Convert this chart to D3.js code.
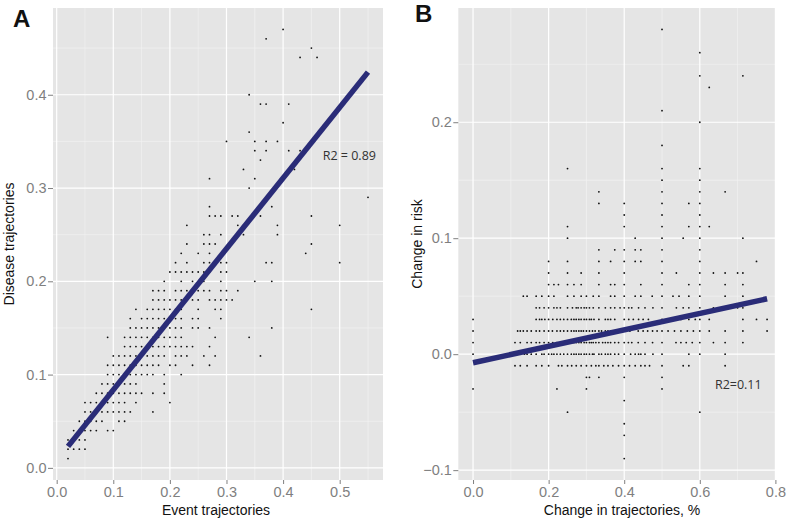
<!DOCTYPE html>
<html><head><meta charset="utf-8">
<script src="https://cdn.jsdelivr.net/npm/d3@7"></script>
<style>body{margin:0;background:#fff}svg{display:block}</style>
</head><body><div id="chart"></div>
<script>
// ---------- DATA ----------
// Panel A: rows of [disease trajectories (y), event trajectories (x values)]
const panelARows = [
  [0.01,[0.02]],
  [0.02,[0.02,0.03,0.04,0.05]],
  [0.03,[0.02,0.03,0.04,0.05]],
  [0.04,[0.03,0.04,0.05,0.06,0.07,0.09,0.10]],
  [0.05,[0.04,0.05,0.06,0.07,0.08,0.11,0.12]],
  [0.06,[0.05,0.06,0.07,0.08,0.09,0.10,0.11,0.12,0.13,0.17]],
  [0.07,[0.05,0.06,0.07,0.08,0.09,0.10,0.11,0.12,0.14,0.20]],
  [0.08,[0.07,0.08,0.09,0.10,0.11,0.12,0.13,0.14,0.15,0.17,0.19]],
  [0.09,[0.08,0.09,0.10,0.11,0.12,0.13,0.14,0.19]],
  [0.10,[0.09,0.10,0.11,0.12,0.13,0.14,0.15,0.16,0.17,0.19,0.22]],
  [0.11,[0.09,0.10,0.11,0.12,0.13,0.14,0.15,0.16,0.17,0.18,0.20,0.21,0.24,0.27]],
  [0.12,[0.10,0.11,0.12,0.13,0.14,0.15,0.16,0.17,0.18,0.19,0.21,0.22,0.23,0.26,0.28,0.36]],
  [0.13,[0.12,0.13,0.14,0.15,0.16,0.17,0.18,0.19,0.20,0.21,0.22,0.23,0.24,0.27]],
  [0.14,[0.09,0.12,0.13,0.14,0.15,0.16,0.17,0.18,0.19,0.20,0.21,0.22,0.28,0.34]],
  [0.15,[0.13,0.14,0.15,0.16,0.17,0.18,0.19,0.20,0.21,0.22,0.24,0.25,0.27,0.38]],
  [0.16,[0.13,0.15,0.16,0.17,0.18,0.19,0.20,0.21,0.22,0.24,0.25,0.29]],
  [0.17,[0.14,0.16,0.17,0.18,0.19,0.20,0.21,0.22,0.25,0.28,0.29,0.45]],
  [0.18,[0.17,0.18,0.19,0.20,0.21,0.22,0.23,0.24,0.25,0.27,0.28,0.29,0.30,0.31]],
  [0.19,[0.17,0.18,0.19,0.21,0.22,0.23,0.24,0.25,0.26,0.27,0.29,0.30,0.32]],
  [0.20,[0.19,0.22,0.24,0.26,0.29,0.35,0.38]],
  [0.21,[0.20,0.21,0.22,0.23,0.24,0.25,0.26,0.27,0.29,0.30]],
  [0.22,[0.21,0.23,0.26,0.27,0.29,0.30,0.37,0.38,0.50]],
  [0.23,[0.22,0.25,0.27,0.44]],
  [0.24,[0.23,0.26,0.27,0.28,0.45]],
  [0.25,[0.26,0.27,0.29,0.33,0.39]],
  [0.26,[0.23,0.32,0.33,0.39,0.50]],
  [0.27,[0.27,0.28,0.29,0.31,0.32,0.36,0.45]],
  [0.28,[0.27,0.38]],
  [0.29,[0.55]],
  [0.30,[0.34]],
  [0.31,[0.27,0.35]],
  [0.32,[0.33,0.42]],
  [0.33,[0.36]],
  [0.34,[0.35,0.37,0.41,0.43]],
  [0.35,[0.30,0.35,0.37,0.39]],
  [0.36,[0.34]],
  [0.37,[0.40]],
  [0.39,[0.36,0.37,0.41]],
  [0.40,[0.34]],
  [0.44,[0.43,0.46]],
  [0.45,[0.45]],
  [0.46,[0.37]],
  [0.47,[0.40]]
];
// Panel B: rows of [change in risk (y), change in trajectories (x values)]
const panelBRows = [
  [0.28,[0.5]],
  [0.26,[0.6]],
  [0.24,[0.6,0.714]],
  [0.23,[0.625]],
  [0.21,[0.5]],
  [0.20,[0.6]],
  [0.18,[0.5]],
  [0.16,[0.25,0.5,0.6]],
  [0.15,[0.5,0.6]],
  [0.14,[0.333,0.5,0.6,0.667]],
  [0.13,[0.333,0.4,0.5,0.571,0.6]],
  [0.12,[0.4,0.5,0.6]],
  [0.11,[0.25,0.4,0.5,0.571,0.6,0.625]],
  [0.10,[0.25,0.429,0.5,0.556,0.6,0.714]],
  [0.09,[0.333,0.375,0.4,0.429,0.444,0.5,0.6]],
  [0.08,[0.2,0.25,0.333,0.364,0.4,0.429,0.444,0.5,0.6,0.75]],
  [0.07,[0.2,0.25,0.286,0.333,0.4,0.5,0.538,0.6,0.636,0.667,0.7,0.714]],
  [0.06,[0.2,0.214,0.226,0.25,0.267,0.286,0.333,0.364,0.375,0.4,0.444,0.5,0.571,0.6,0.667,0.714]],
  [0.05,[0.133,0.143,0.167,0.182,0.2,0.214,0.25,0.267,0.286,0.3,0.318,0.333,0.364,0.375,0.4,0.429,0.444,0.474,0.5,0.529,0.545,0.571,0.6,0.667,0.714]],
  [0.04,[0.167,0.176,0.188,0.2,0.214,0.222,0.231,0.25,0.263,0.273,0.278,0.286,0.294,0.3,0.308,0.318,0.333,0.35,0.364,0.375,0.389,0.4,0.412,0.42,0.438,0.455,0.476,0.5,0.538,0.556,0.571,0.6,0.636,0.667,0.7,0.714]],
  [0.03,[0,0.167,0.176,0.182,0.19,0.2,0.211,0.222,0.231,0.24,0.25,0.26,0.267,0.273,0.28,0.286,0.294,0.3,0.308,0.313,0.32,0.333,0.35,0.357,0.364,0.375,0.4,0.412,0.424,0.438,0.45,0.464,0.5,0.517,0.533,0.55,0.571,0.588,0.6,0.625,0.714,0.75,0.778]],
  [0.02,[0,0.118,0.125,0.133,0.143,0.154,0.167,0.176,0.188,0.2,0.21,0.222,0.231,0.24,0.25,0.26,0.267,0.273,0.28,0.286,0.292,0.3,0.308,0.316,0.323,0.333,0.34,0.35,0.357,0.364,0.375,0.385,0.393,0.4,0.415,0.437,0.45,0.462,0.475,0.487,0.5,0.516,0.533,0.55,0.567,0.583,0.6,0.625,0.667,0.714,0.778]],
  [0.01,[0,0.111,0.125,0.143,0.154,0.167,0.176,0.188,0.2,0.211,0.222,0.231,0.24,0.25,0.259,0.267,0.273,0.28,0.286,0.294,0.3,0.308,0.313,0.318,0.325,0.333,0.343,0.35,0.357,0.364,0.375,0.385,0.4,0.411,0.42,0.437,0.455,0.475,0.5,0.537,0.55,0.564,0.58,0.6,0.636,0.667,0.714]],
  [0.00,[0,0.1,0.111,0.125,0.136,0.143,0.154,0.167,0.182,0.188,0.2,0.208,0.214,0.222,0.231,0.24,0.25,0.26,0.267,0.273,0.28,0.286,0.294,0.3,0.308,0.316,0.32,0.333,0.34,0.35,0.357,0.364,0.375,0.385,0.4,0.417,0.429,0.438,0.444,0.455,0.476,0.5,0.571,0.6,0.667]],
  [-0.01,[0.111,0.125,0.143,0.167,0.182,0.2,0.226,0.235,0.25,0.261,0.273,0.286,0.3,0.313,0.325,0.333,0.346,0.357,0.37,0.385,0.4,0.414,0.429,0.444,0.455,0.467,0.5,0.556,0.571,0.667]],
  [-0.02,[0.3,0.308,0.333,0.4,0.5]],
  [-0.03,[0,0.222,0.3,0.5]],
  [-0.04,[0.4]],
  [-0.05,[0.25,0.6]],
  [-0.06,[0.4]],
  [-0.07,[0.4]],
  [-0.09,[0.4]]
];
// regression fits [intercept, slope, xFrom, xTo]
const fitA = [0.0079, 0.757, 0.02, 0.55];
const fitB = [-0.0074, 0.0709, 0.0, 0.778];
const r2Labels = ["R2 = 0.89", "R2=0.11"];
const r2Pos = [[0.47, 0.33], [0.64, -0.03]];
const ticksAx = [0.0,0.1,0.2,0.3,0.4,0.5];
const ticksAy = [0.0,0.1,0.2,0.3,0.4];
const minorAx = [0.05,0.15,0.25,0.35,0.45,0.55];
const minorAy = [0.05,0.15,0.25,0.35,0.45];
const ticksBx = [0.0,0.2,0.4,0.6,0.8];
const ticksBy = [-0.1,0.0,0.1,0.2];
const minorBx = [0.1,0.3,0.5,0.7];
const minorBy = [-0.05,0.05,0.15,0.25];
const titles = {aX:"Event trajectories", aY:"Disease trajectories", bX:"Change in trajectories, %", bY:"Change in risk"};

// ---------- DRAW ----------
const W=787,H=522;
const svg=d3.select("#chart").append("svg").attr("width",W).attr("height",H);
svg.append("rect").attr("width",W).attr("height",H).attr("fill","#fff");

function flatten(rows){const out=[];rows.forEach(([y,xs])=>xs.forEach(x=>out.push([x,y])));return out;}

function panel(cfg){
  const {x,y,tx,ty,mx,my,rows,fit,label,r2,r2p,xt,yt,xtX,ytX}=cfg;
  const g=svg.append("g");
  const [x0,x1]=x.range(), [y0,y1]=y.range();
  g.append("rect").attr("x",x0).attr("y",y1).attr("width",x1-x0).attr("height",y0-y1).attr("fill","#e5e5e5");
  g.selectAll(".mx").data(mx).join("line").attr("x1",d=>x(d)).attr("x2",d=>x(d)).attr("y1",y0).attr("y2",y1).attr("stroke","#f2f2f2").attr("stroke-width",0.7);
  g.selectAll(".my").data(my).join("line").attr("y1",d=>y(d)).attr("y2",d=>y(d)).attr("x1",x0).attr("x2",x1).attr("stroke","#f2f2f2").attr("stroke-width",0.7);
  g.selectAll(".gx").data(tx).join("line").attr("x1",d=>x(d)).attr("x2",d=>x(d)).attr("y1",y0).attr("y2",y1).attr("stroke","#fff").attr("stroke-width",1.2);
  g.selectAll(".gy").data(ty).join("line").attr("y1",d=>y(d)).attr("y2",d=>y(d)).attr("x1",x0).attr("x2",x1).attr("stroke","#fff").attr("stroke-width",1.2);
  // axes
  const ax=d3.axisBottom(x).tickValues(tx).tickSize(4).tickPadding(3).tickFormat(d3.format(".1f"));
  const ay=d3.axisLeft(y).tickValues(ty).tickSize(5).tickPadding(1.5).tickFormat(d=>d3.format(".1f")(d).replace("-","\u2212"));
  const gx=g.append("g").attr("transform",`translate(0,${y0})`).call(ax);
  const gy=g.append("g").attr("transform",`translate(${x0},0)`).call(ay);
  [gx,gy].forEach(a=>{a.select(".domain").remove();
    a.selectAll(".tick line").attr("stroke","#7f7f7f");
    a.selectAll(".tick text").attr("fill","#7f7f7f").style("font-family","'Liberation Sans',Arial,sans-serif").style("font-size","14.5px");});
  // points
  g.selectAll(".pt").data(flatten(rows)).join("circle").attr("cx",d=>x(d[0])).attr("cy",d=>y(d[1])).attr("r",0.9).attr("fill","#111");
  // fit line
  g.append("line").attr("x1",x(fit[2])).attr("y1",y(fit[0]+fit[1]*fit[2])).attr("x2",x(fit[3])).attr("y2",y(fit[0]+fit[1]*fit[3]))
    .attr("stroke","#2a2c78").attr("stroke-width",5.5);
  g.append("text").attr("x",x(r2p[0])).attr("y",y(r2p[1])).text(r2).attr("fill","#333").style("font-family","'Open Sans',sans-serif").style("font-size","12.5px");
  // titles
  g.append("text").attr("x",xtX).attr("y",515).attr("text-anchor","middle").text(xt).attr("fill","#111").style("font-family","'Liberation Sans',Arial,sans-serif").style("font-size","14px");
  g.append("text").attr("transform",`translate(${ytX},${(y0+y1)/2}) rotate(-90)`).attr("text-anchor","middle").text(yt).attr("fill","#111").style("font-family","'Liberation Sans',Arial,sans-serif").style("font-size","14px");
  g.append("text").attr("x",label[1]).attr("y",label[2]).text(label[0]).attr("fill","#111").style("font-family","'Liberation Sans',Arial,sans-serif").style("font-size","24px").style("font-weight","bold");
}

const xA=d3.scaleLinear().domain([-0.0065,0.5765]).range([53,383]);
const yA=d3.scaleLinear().domain([-0.013,0.493]).range([480,8]);
const xB=d3.scaleLinear().domain([-0.039,0.8016]).range([458.3,776]);
const yB=d3.scaleLinear().domain([-0.1085,0.2985]).range([480,8]);

panel({x:xA,y:yA,tx:ticksAx,ty:ticksAy,mx:minorAx,my:minorAy,rows:panelARows,fit:fitA,label:["A",13,27],r2:r2Labels[0],r2p:r2Pos[0],xt:titles.aX,yt:titles.aY,xtX:216,ytX:14});
panel({x:xB,y:yB,tx:ticksBx,ty:ticksBy,mx:minorBx,my:minorBy,rows:panelBRows,fit:fitB,label:["B",415,22],r2:r2Labels[1],r2p:r2Pos[1],xt:titles.bX,yt:titles.bY,xtX:622,ytX:422});
</script></body></html>
